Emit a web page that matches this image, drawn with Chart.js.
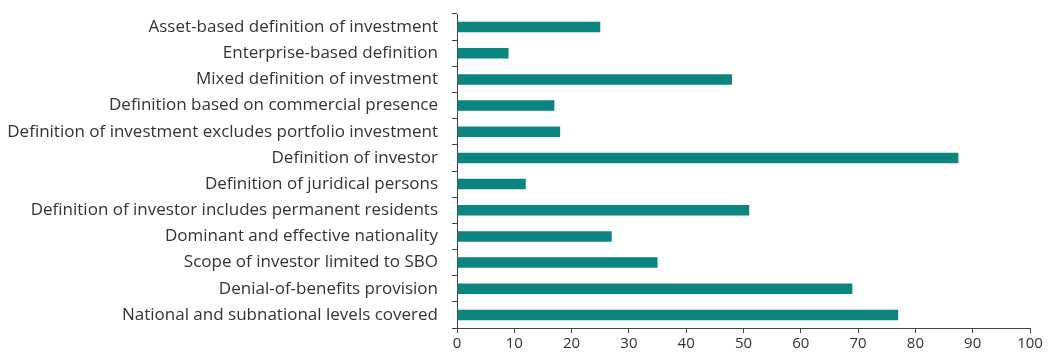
<!DOCTYPE html>
<html>
<head>
<meta charset="utf-8">
<script src="https://cdn.jsdelivr.net/npm/chart.js@4/dist/chart.umd.min.js"></script>
<style>
  html, body { margin: 0; padding: 0; background: #fff; }
  #wrap { width: 1053px; height: 358px; position: relative; }
</style>
</head>
<body>
<div id="wrap"><canvas id="barChart"></canvas></div>
<script>
const categories = [
    'Asset-based definition of investment',
    'Enterprise-based definition',
    'Mixed definition of investment',
    'Definition based on commercial presence',
    'Definition of investment excludes portfolio investment',
    'Definition of investor',
    'Definition of juridical persons',
    'Definition of investor includes permanent residents',
    'Dominant and effective nationality',
    'Scope of investor limited to SBO',
    'Denial-of-benefits provision',
    'National and subnational levels covered'
];
const shares = [25, 9, 48, 17, 18, 87.5, 12, 51, 27, 35, 69, 77];
const xTicks = [0, 10, 20, 30, 40, 50, 60, 70, 80, 90, 100];

const fontFamily = '"Open Sans", "Noto Sans", sans-serif';
const textColor = '#333';
const axisColor = '#444';

const ctx = document.getElementById('barChart').getContext('2d');
const barChart = new Chart(ctx, {
    type: 'bar',
    data: {
        labels: categories,
        datasets: [{
            data: shares,
            backgroundColor: '#0c8580',
            borderWidth: 0,
            categoryPercentage: 1,
            barPercentage: 0.4
        }]
    },
    options: {
        indexAxis: 'y',
        responsive: true,
        maintainAspectRatio: false,
        animation: false,
        layout: { padding: { top: 14, right: 23, bottom: 3, left: 0 } },
        plugins: {
            legend: { display: false },
            tooltip: { enabled: false }
        },
        scales: {
            x: {
                min: 0,
                max: 100,
                afterBuildTicks: (scale) => {
                    scale.ticks = xTicks.map(v => ({ value: v }));
                },
                border: { color: axisColor, width: 1 },
                grid: {
                    drawOnChartArea: false,
                    drawTicks: true,
                    tickLength: 5,
                    color: axisColor
                },
                ticks: {
                    color: textColor,
                    padding: 2,
                    font: { family: fontFamily, size: 15 }
                }
            },
            y: {
                afterFit: (scale) => {
                    scale.width = 457;
                    scale.paddingTop = 0;
                    scale.paddingBottom = 0;
                },
                border: { color: axisColor, width: 1 },
                grid: {
                    offset: true,
                    drawOnChartArea: false,
                    drawTicks: true,
                    tickLength: 5,
                    color: axisColor
                },
                ticks: {
                    color: textColor,
                    padding: 14,
                    autoSkip: false,
                    font: { family: fontFamily, size: 17 }
                }
            }
        }
    }
});
</script>
</body>
</html>
